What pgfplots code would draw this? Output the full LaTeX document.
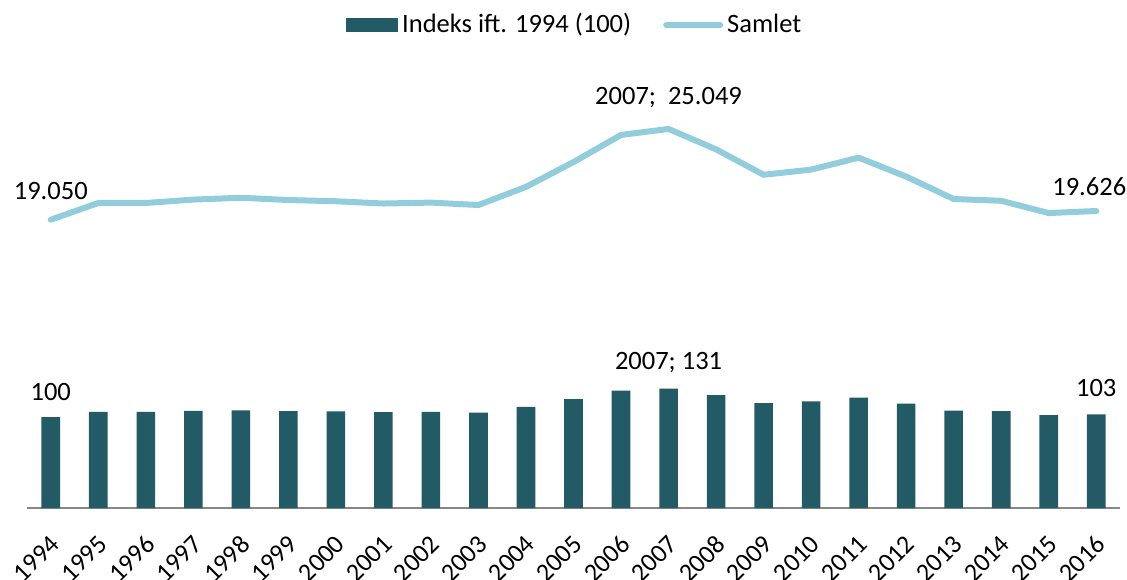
\documentclass[border=0pt]{standalone}
\usepackage{pgfplots}
\pgfplotsset{compat=1.18}
\usepackage{fontspec}
\setmainfont{Carlito}
\definecolor{barcol}{HTML}{225A66}
\definecolor{linecol}{HTML}{92CDDC}
\definecolor{axcol}{HTML}{868686}
\pgfplotsset{
  barlegend/.style={legend image code/.code={\fill[barcol] (0pt,-3.5pt) rectangle (26pt,3.5pt);}},
  linelegend/.style={legend image code/.code={\draw[linecol, line width=3pt, line cap=round] (0pt,0pt) -- (27pt,0pt);}},
}
\begin{document}
\fontsize{13.25}{16}\selectfont
\begin{tikzpicture}
\path[use as bounding box] (0,0) rectangle (563.5pt,289.5pt);
\begin{axis}[
  at={(13.5pt,35.5pt)}, anchor=south west,
  scale only axis, width=546.5pt, height=227pt,
  xmin=1993.5, xmax=2016.5, ymin=0, ymax=500,
  ybar, bar width=9.3pt,
  axis x line*=bottom, hide y axis,
  x axis line style={axcol, line width=1pt, -},
  xtick=data, major tick length=0pt,
  /pgf/number format/assume math mode=true,
  x tick label style={/pgf/number format/1000 sep={}, rotate=45, anchor=north east, inner sep=0pt, xshift=-9.6pt, yshift=-8.3pt, font=\fontsize{13}{15}\selectfont},
  legend columns=2,
  legend style={at={(0.502,1.064)}, anchor=center, draw=none, fill=none,
    font=\fontsize{13.25}{16}\selectfont,
    /tikz/every even column/.append style={column sep=14pt}},
]
\addplot[fill=barcol, draw=none, barlegend] coordinates {
(1994,100.0) (1995,105.8) (1996,105.8) (1997,107.0) (1998,107.6) (1999,106.8)
(2000,106.4) (2001,105.6) (2002,105.9) (2003,105.1) (2004,111.4) (2005,120.0)
(2006,129.4) (2007,131.5) (2008,124.4) (2009,115.6) (2010,117.4) (2011,121.5)
(2012,115.0) (2013,107.2) (2014,106.6) (2015,102.3) (2016,103.0)};
\addlegendentry{Indeks ift. 1994 (100)}
\addlegendimage{linelegend}
\addlegendentry{Samlet}
\node[anchor=base, yshift=8.5pt] at (axis cs:1994,100) {100};
\node[anchor=base, yshift=9.5pt] at (axis cs:2007,131.5) {2007; 131};
\node[anchor=base, yshift=9pt] at (axis cs:2016,103) {103};
\end{axis}
\begin{axis}[
  at={(13.5pt,35.5pt)}, anchor=south west,
  scale only axis, width=546.5pt, height=227pt,
  xmin=1993.5, xmax=2016.5, ymin=0, ymax=30000,
  hide axis, clip=false,
]
\addplot[linecol, line width=3pt, line cap=round, line join=round] coordinates {
(1994,19050) (1995,20155) (1996,20155) (1997,20380) (1998,20500) (1999,20350)
(2000,20270) (2001,20120) (2002,20180) (2003,20020) (2004,21220) (2005,22860)
(2006,24650) (2007,25049) (2008,23700) (2009,22020) (2010,22360) (2011,23150)
(2012,21900) (2013,20420) (2014,20300) (2015,19490) (2016,19626)};
\node[anchor=base, yshift=10.3pt] at (axis cs:1994,19050) {19.050};
\node[anchor=base, yshift=12.3pt] at (axis cs:2007,25049) {2007;\ \ 25.049};
\node[anchor=base, yshift=7.5pt, xshift=-3.5pt] at (axis cs:2016,19626) {19.626};
\end{axis}
\end{tikzpicture}
\end{document}
